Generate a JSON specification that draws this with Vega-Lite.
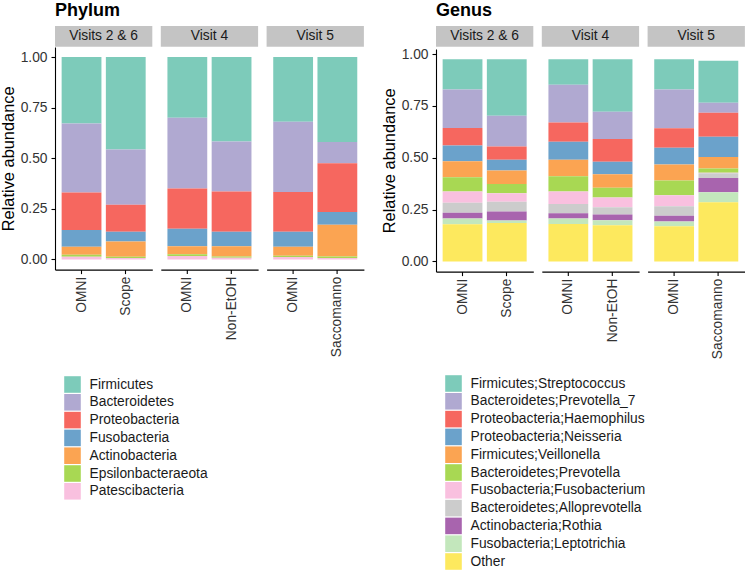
{
  "$schema": "https://vega.github.io/schema/vega-lite/v6.json",
  "padding": {"left": 0, "top": 2, "right": 0, "bottom": 0},
  "datasets": {
    "taxa": [
      {"taxon": "Firmicutes", "rank": 1},
      {"taxon": "Bacteroidetes", "rank": 2},
      {"taxon": "Proteobacteria", "rank": 3},
      {"taxon": "Fusobacteria", "rank": 4},
      {"taxon": "Actinobacteria", "rank": 5},
      {"taxon": "Epsilonbacteraeota", "rank": 6},
      {"taxon": "Patescibacteria", "rank": 7},
      {"taxon": "Firmicutes;Streptococcus", "rank": 1},
      {"taxon": "Bacteroidetes;Prevotella_7", "rank": 2},
      {"taxon": "Proteobacteria;Haemophilus", "rank": 3},
      {"taxon": "Proteobacteria;Neisseria", "rank": 4},
      {"taxon": "Firmicutes;Veillonella", "rank": 5},
      {"taxon": "Bacteroidetes;Prevotella", "rank": 6},
      {"taxon": "Fusobacteria;Fusobacterium", "rank": 7},
      {"taxon": "Bacteroidetes;Alloprevotella", "rank": 8},
      {"taxon": "Actinobacteria;Rothia", "rank": 9},
      {"taxon": "Fusobacteria;Leptotrichia", "rank": 10},
      {"taxon": "Other", "rank": 11}
    ],
    "phylum": [
      {"visit": "Visits 2 & 6", "method": "OMNI", "taxon": "Firmicutes", "value": 0.328},
      {"visit": "Visits 2 & 6", "method": "OMNI", "taxon": "Bacteroidetes", "value": 0.341},
      {"visit": "Visits 2 & 6", "method": "OMNI", "taxon": "Proteobacteria", "value": 0.185},
      {"visit": "Visits 2 & 6", "method": "OMNI", "taxon": "Fusobacteria", "value": 0.083},
      {"visit": "Visits 2 & 6", "method": "OMNI", "taxon": "Actinobacteria", "value": 0.040},
      {"visit": "Visits 2 & 6", "method": "OMNI", "taxon": "Epsilonbacteraeota", "value": 0.010},
      {"visit": "Visits 2 & 6", "method": "OMNI", "taxon": "Patescibacteria", "value": 0.013},
      {"visit": "Visits 2 & 6", "method": "Scope", "taxon": "Firmicutes", "value": 0.457},
      {"visit": "Visits 2 & 6", "method": "Scope", "taxon": "Bacteroidetes", "value": 0.273},
      {"visit": "Visits 2 & 6", "method": "Scope", "taxon": "Proteobacteria", "value": 0.133},
      {"visit": "Visits 2 & 6", "method": "Scope", "taxon": "Fusobacteria", "value": 0.048},
      {"visit": "Visits 2 & 6", "method": "Scope", "taxon": "Actinobacteria", "value": 0.076},
      {"visit": "Visits 2 & 6", "method": "Scope", "taxon": "Epsilonbacteraeota", "value": 0.006},
      {"visit": "Visits 2 & 6", "method": "Scope", "taxon": "Patescibacteria", "value": 0.007},
      {"visit": "Visit 4", "method": "OMNI", "taxon": "Firmicutes", "value": 0.300},
      {"visit": "Visit 4", "method": "OMNI", "taxon": "Bacteroidetes", "value": 0.349},
      {"visit": "Visit 4", "method": "OMNI", "taxon": "Proteobacteria", "value": 0.199},
      {"visit": "Visit 4", "method": "OMNI", "taxon": "Fusobacteria", "value": 0.086},
      {"visit": "Visit 4", "method": "OMNI", "taxon": "Actinobacteria", "value": 0.040},
      {"visit": "Visit 4", "method": "OMNI", "taxon": "Epsilonbacteraeota", "value": 0.009},
      {"visit": "Visit 4", "method": "OMNI", "taxon": "Patescibacteria", "value": 0.017},
      {"visit": "Visit 4", "method": "Non-EtOH", "taxon": "Firmicutes", "value": 0.417},
      {"visit": "Visit 4", "method": "Non-EtOH", "taxon": "Bacteroidetes", "value": 0.247},
      {"visit": "Visit 4", "method": "Non-EtOH", "taxon": "Proteobacteria", "value": 0.199},
      {"visit": "Visit 4", "method": "Non-EtOH", "taxon": "Fusobacteria", "value": 0.072},
      {"visit": "Visit 4", "method": "Non-EtOH", "taxon": "Actinobacteria", "value": 0.050},
      {"visit": "Visit 4", "method": "Non-EtOH", "taxon": "Epsilonbacteraeota", "value": 0.007},
      {"visit": "Visit 4", "method": "Non-EtOH", "taxon": "Patescibacteria", "value": 0.008},
      {"visit": "Visit 5", "method": "OMNI", "taxon": "Firmicutes", "value": 0.320},
      {"visit": "Visit 5", "method": "OMNI", "taxon": "Bacteroidetes", "value": 0.346},
      {"visit": "Visit 5", "method": "OMNI", "taxon": "Proteobacteria", "value": 0.197},
      {"visit": "Visit 5", "method": "OMNI", "taxon": "Fusobacteria", "value": 0.074},
      {"visit": "Visit 5", "method": "OMNI", "taxon": "Actinobacteria", "value": 0.045},
      {"visit": "Visit 5", "method": "OMNI", "taxon": "Epsilonbacteraeota", "value": 0.006},
      {"visit": "Visit 5", "method": "OMNI", "taxon": "Patescibacteria", "value": 0.012},
      {"visit": "Visit 5", "method": "Saccomanno", "taxon": "Firmicutes", "value": 0.419},
      {"visit": "Visit 5", "method": "Saccomanno", "taxon": "Bacteroidetes", "value": 0.106},
      {"visit": "Visit 5", "method": "Saccomanno", "taxon": "Proteobacteria", "value": 0.240},
      {"visit": "Visit 5", "method": "Saccomanno", "taxon": "Fusobacteria", "value": 0.063},
      {"visit": "Visit 5", "method": "Saccomanno", "taxon": "Actinobacteria", "value": 0.157},
      {"visit": "Visit 5", "method": "Saccomanno", "taxon": "Epsilonbacteraeota", "value": 0.008},
      {"visit": "Visit 5", "method": "Saccomanno", "taxon": "Patescibacteria", "value": 0.007}
    ],
    "genus": [
      {"visit": "Visits 2 & 6", "method": "OMNI", "taxon": "Firmicutes;Streptococcus", "value": 0.146},
      {"visit": "Visits 2 & 6", "method": "OMNI", "taxon": "Bacteroidetes;Prevotella_7", "value": 0.186},
      {"visit": "Visits 2 & 6", "method": "OMNI", "taxon": "Proteobacteria;Haemophilus", "value": 0.084},
      {"visit": "Visits 2 & 6", "method": "OMNI", "taxon": "Proteobacteria;Neisseria", "value": 0.076},
      {"visit": "Visits 2 & 6", "method": "OMNI", "taxon": "Firmicutes;Veillonella", "value": 0.078},
      {"visit": "Visits 2 & 6", "method": "OMNI", "taxon": "Bacteroidetes;Prevotella", "value": 0.068},
      {"visit": "Visits 2 & 6", "method": "OMNI", "taxon": "Fusobacteria;Fusobacterium", "value": 0.055},
      {"visit": "Visits 2 & 6", "method": "OMNI", "taxon": "Bacteroidetes;Alloprevotella", "value": 0.048},
      {"visit": "Visits 2 & 6", "method": "OMNI", "taxon": "Actinobacteria;Rothia", "value": 0.028},
      {"visit": "Visits 2 & 6", "method": "OMNI", "taxon": "Fusobacteria;Leptotrichia", "value": 0.027},
      {"visit": "Visits 2 & 6", "method": "OMNI", "taxon": "Other", "value": 0.180},
      {"visit": "Visits 2 & 6", "method": "Scope", "taxon": "Firmicutes;Streptococcus", "value": 0.273},
      {"visit": "Visits 2 & 6", "method": "Scope", "taxon": "Bacteroidetes;Prevotella_7", "value": 0.148},
      {"visit": "Visits 2 & 6", "method": "Scope", "taxon": "Proteobacteria;Haemophilus", "value": 0.064},
      {"visit": "Visits 2 & 6", "method": "Scope", "taxon": "Proteobacteria;Neisseria", "value": 0.052},
      {"visit": "Visits 2 & 6", "method": "Scope", "taxon": "Firmicutes;Veillonella", "value": 0.065},
      {"visit": "Visits 2 & 6", "method": "Scope", "taxon": "Bacteroidetes;Prevotella", "value": 0.045},
      {"visit": "Visits 2 & 6", "method": "Scope", "taxon": "Fusobacteria;Fusobacterium", "value": 0.041},
      {"visit": "Visits 2 & 6", "method": "Scope", "taxon": "Bacteroidetes;Alloprevotella", "value": 0.047},
      {"visit": "Visits 2 & 6", "method": "Scope", "taxon": "Actinobacteria;Rothia", "value": 0.043},
      {"visit": "Visits 2 & 6", "method": "Scope", "taxon": "Fusobacteria;Leptotrichia", "value": 0.013},
      {"visit": "Visits 2 & 6", "method": "Scope", "taxon": "Other", "value": 0.185},
      {"visit": "Visit 4", "method": "OMNI", "taxon": "Firmicutes;Streptococcus", "value": 0.123},
      {"visit": "Visit 4", "method": "OMNI", "taxon": "Bacteroidetes;Prevotella_7", "value": 0.183},
      {"visit": "Visit 4", "method": "OMNI", "taxon": "Proteobacteria;Haemophilus", "value": 0.092},
      {"visit": "Visit 4", "method": "OMNI", "taxon": "Proteobacteria;Neisseria", "value": 0.087},
      {"visit": "Visit 4", "method": "OMNI", "taxon": "Firmicutes;Veillonella", "value": 0.080},
      {"visit": "Visit 4", "method": "OMNI", "taxon": "Bacteroidetes;Prevotella", "value": 0.074},
      {"visit": "Visit 4", "method": "OMNI", "taxon": "Fusobacteria;Fusobacterium", "value": 0.060},
      {"visit": "Visit 4", "method": "OMNI", "taxon": "Bacteroidetes;Alloprevotella", "value": 0.045},
      {"visit": "Visit 4", "method": "OMNI", "taxon": "Actinobacteria;Rothia", "value": 0.025},
      {"visit": "Visit 4", "method": "OMNI", "taxon": "Fusobacteria;Leptotrichia", "value": 0.026},
      {"visit": "Visit 4", "method": "OMNI", "taxon": "Other", "value": 0.181},
      {"visit": "Visit 4", "method": "Non-EtOH", "taxon": "Firmicutes;Streptococcus", "value": 0.254},
      {"visit": "Visit 4", "method": "Non-EtOH", "taxon": "Bacteroidetes;Prevotella_7", "value": 0.131},
      {"visit": "Visit 4", "method": "Non-EtOH", "taxon": "Proteobacteria;Haemophilus", "value": 0.110},
      {"visit": "Visit 4", "method": "Non-EtOH", "taxon": "Proteobacteria;Neisseria", "value": 0.060},
      {"visit": "Visit 4", "method": "Non-EtOH", "taxon": "Firmicutes;Veillonella", "value": 0.065},
      {"visit": "Visit 4", "method": "Non-EtOH", "taxon": "Bacteroidetes;Prevotella", "value": 0.047},
      {"visit": "Visit 4", "method": "Non-EtOH", "taxon": "Fusobacteria;Fusobacterium", "value": 0.047},
      {"visit": "Visit 4", "method": "Non-EtOH", "taxon": "Bacteroidetes;Alloprevotella", "value": 0.035},
      {"visit": "Visit 4", "method": "Non-EtOH", "taxon": "Actinobacteria;Rothia", "value": 0.028},
      {"visit": "Visit 4", "method": "Non-EtOH", "taxon": "Fusobacteria;Leptotrichia", "value": 0.024},
      {"visit": "Visit 4", "method": "Non-EtOH", "taxon": "Other", "value": 0.175},
      {"visit": "Visit 5", "method": "OMNI", "taxon": "Firmicutes;Streptococcus", "value": 0.146},
      {"visit": "Visit 5", "method": "OMNI", "taxon": "Bacteroidetes;Prevotella_7", "value": 0.186},
      {"visit": "Visit 5", "method": "OMNI", "taxon": "Proteobacteria;Haemophilus", "value": 0.094},
      {"visit": "Visit 5", "method": "OMNI", "taxon": "Proteobacteria;Neisseria", "value": 0.081},
      {"visit": "Visit 5", "method": "OMNI", "taxon": "Firmicutes;Veillonella", "value": 0.078},
      {"visit": "Visit 5", "method": "OMNI", "taxon": "Bacteroidetes;Prevotella", "value": 0.071},
      {"visit": "Visit 5", "method": "OMNI", "taxon": "Fusobacteria;Fusobacterium", "value": 0.053},
      {"visit": "Visit 5", "method": "OMNI", "taxon": "Bacteroidetes;Alloprevotella", "value": 0.046},
      {"visit": "Visit 5", "method": "OMNI", "taxon": "Actinobacteria;Rothia", "value": 0.027},
      {"visit": "Visit 5", "method": "OMNI", "taxon": "Fusobacteria;Leptotrichia", "value": 0.023},
      {"visit": "Visit 5", "method": "OMNI", "taxon": "Other", "value": 0.170},
      {"visit": "Visit 5", "method": "Saccomanno", "taxon": "Firmicutes;Streptococcus", "value": 0.202},
      {"visit": "Visit 5", "method": "Saccomanno", "taxon": "Bacteroidetes;Prevotella_7", "value": 0.049},
      {"visit": "Visit 5", "method": "Saccomanno", "taxon": "Proteobacteria;Haemophilus", "value": 0.115},
      {"visit": "Visit 5", "method": "Saccomanno", "taxon": "Proteobacteria;Neisseria", "value": 0.098},
      {"visit": "Visit 5", "method": "Saccomanno", "taxon": "Firmicutes;Veillonella", "value": 0.055},
      {"visit": "Visit 5", "method": "Saccomanno", "taxon": "Bacteroidetes;Prevotella", "value": 0.021},
      {"visit": "Visit 5", "method": "Saccomanno", "taxon": "Fusobacteria;Fusobacterium", "value": 0.003},
      {"visit": "Visit 5", "method": "Saccomanno", "taxon": "Bacteroidetes;Alloprevotella", "value": 0.022},
      {"visit": "Visit 5", "method": "Saccomanno", "taxon": "Actinobacteria;Rothia", "value": 0.069},
      {"visit": "Visit 5", "method": "Saccomanno", "taxon": "Fusobacteria;Leptotrichia", "value": 0.049},
      {"visit": "Visit 5", "method": "Saccomanno", "taxon": "Other", "value": 0.285}
    ]
  },
  "hconcat": [
    {
      "title": {"text": "Phylum"},
      "spacing": 0,
      "vconcat": [
        {
          "data": {"name": "phylum"},
          "transform": [{"aggregate": [{"op": "count", "as": "n"}], "groupby": ["visit"]}],
          "facet": {"column": {"field": "visit", "type": "nominal", "sort": ["Visits 2 & 6", "Visit 4", "Visit 5"], "header": null}},
          "spacing": 7.8,
          "spec": {
            "width": 97.3,
            "height": 20.7,
            "layer": [
              {"mark": {"type": "rect", "color": "#C4C4C4"}, "encoding": {}},
              {"mark": {"type": "text", "fontSize": 13.8, "color": "#1A1A1A"}, "encoding": {"text": {"field": "visit", "type": "nominal"}}}
            ]
          }
        },
        {
          "data": {"name": "phylum"},
          "transform": [{"lookup": "taxon", "from": {"data": {"name": "taxa"}, "key": "taxon", "fields": ["rank"]}}],
          "facet": {"column": {"field": "visit", "type": "nominal", "sort": ["Visits 2 & 6", "Visit 4", "Visit 5"], "header": null}},
          "spacing": 7.8,
          "resolve": {"scale": {"x": "independent"}},
          "spec": {
            "width": 97.3,
            "height": 222.6,
            "mark": {"type": "bar"},
            "encoding": {
              "x": {"field": "method", "type": "nominal", "sort": ["OMNI", "Scope", "Non-EtOH", "Saccomanno"], "scale": {"paddingInner": 0.1, "paddingOuter": 0.15}, "axis": {"title": null, "labelAngle": -90}},
              "y": {"field": "value", "type": "quantitative", "stack": "zero", "scale": {"domain": [-0.05, 1.05], "nice": false, "zero": false}, "axis": {"title": "Relative abundance", "values": [0, 0.25, 0.5, 0.75, 1], "format": ".2f"}},
              "color": {
                "field": "taxon", "type": "nominal",
                "scale": {
                  "domain": ["Firmicutes", "Bacteroidetes", "Proteobacteria", "Fusobacteria", "Actinobacteria", "Epsilonbacteraeota", "Patescibacteria"],
                  "range": ["#7DCBBA", "#B0A9D1", "#F6675F", "#6BA2CB", "#FBA452", "#A8D853", "#F9C0DF"]
                },
                "legend": {"title": null, "offset": 10}
              },
              "order": {"field": "rank", "type": "quantitative", "sort": "descending"}
            }
          }
        }
      ]
    },
    {
      "title": {"text": "Genus"},
      "spacing": 0,
      "vconcat": [
        {
          "data": {"name": "genus"},
          "transform": [{"aggregate": [{"op": "count", "as": "n"}], "groupby": ["visit"]}],
          "facet": {"column": {"field": "visit", "type": "nominal", "sort": ["Visits 2 & 6", "Visit 4", "Visit 5"], "header": null}},
          "spacing": 7.8,
          "spec": {
            "width": 97.3,
            "height": 20.7,
            "layer": [
              {"mark": {"type": "rect", "color": "#C4C4C4"}, "encoding": {}},
              {"mark": {"type": "text", "fontSize": 13.8, "color": "#1A1A1A"}, "encoding": {"text": {"field": "visit", "type": "nominal"}}}
            ]
          }
        },
        {
          "data": {"name": "genus"},
          "transform": [{"lookup": "taxon", "from": {"data": {"name": "taxa"}, "key": "taxon", "fields": ["rank"]}}],
          "facet": {"column": {"field": "visit", "type": "nominal", "sort": ["Visits 2 & 6", "Visit 4", "Visit 5"], "header": null}},
          "spacing": 7.8,
          "resolve": {"scale": {"x": "independent"}},
          "spec": {
            "width": 97.3,
            "height": 222.6,
            "mark": {"type": "bar"},
            "encoding": {
              "x": {"field": "method", "type": "nominal", "sort": ["OMNI", "Scope", "Non-EtOH", "Saccomanno"], "scale": {"paddingInner": 0.1, "paddingOuter": 0.15}, "axis": {"title": null, "labelAngle": -90}},
              "y": {"field": "value", "type": "quantitative", "stack": "zero", "scale": {"domain": [-0.049, 1.025], "nice": false, "zero": false}, "axis": {"title": "Relative abundance", "values": [0, 0.25, 0.5, 0.75, 1], "format": ".2f"}},
              "color": {
                "field": "taxon", "type": "nominal",
                "scale": {
                  "domain": ["Firmicutes;Streptococcus", "Bacteroidetes;Prevotella_7", "Proteobacteria;Haemophilus", "Proteobacteria;Neisseria", "Firmicutes;Veillonella", "Bacteroidetes;Prevotella", "Fusobacteria;Fusobacterium", "Bacteroidetes;Alloprevotella", "Actinobacteria;Rothia", "Fusobacteria;Leptotrichia", "Other"],
                  "range": ["#7DCBBA", "#B0A9D1", "#F6675F", "#6BA2CB", "#FBA452", "#A8D853", "#F9C0DF", "#CCCCCC", "#A864AE", "#C3E7BC", "#FDE95E"]
                },
                "legend": {"title": null, "offset": 7}
              },
              "order": {"field": "rank", "type": "quantitative", "sort": "descending"}
            }
          }
        }
      ]
    }
  ],
  "spacing": 17,
  "resolve": {"scale": {"color": "independent"}, "legend": {"color": "independent"}},
  "config": {
    "font": "Liberation Sans",
    "view": {"stroke": null},
    "axis": {"domainColor": "#000000", "domainWidth": 1.1, "tickColor": "#000000", "tickWidth": 1.1, "tickSize": 4, "labelColor": "#333333", "labelFontSize": 13.8, "labelPadding": 2.5, "grid": false, "titleFontSize": 16.4, "titleFontWeight": "normal", "titleColor": "#000000"},
    "axisY": {"titlePadding": 4, "labelPadding": 4},
    "title": {"anchor": "start", "fontSize": 18, "fontWeight": "bold", "color": "#000000", "frame": "group", "offset": 6},
    "legend": {"orient": "bottom", "direction": "vertical", "symbolType": "square", "symbolSize": 275, "symbolStrokeWidth": 0, "labelFontSize": 13.8, "labelColor": "#1A1A1A", "labelOffset": 8.5, "rowPadding": 0.8, "padding": 9, "labelLimit": 300}
  }
}
